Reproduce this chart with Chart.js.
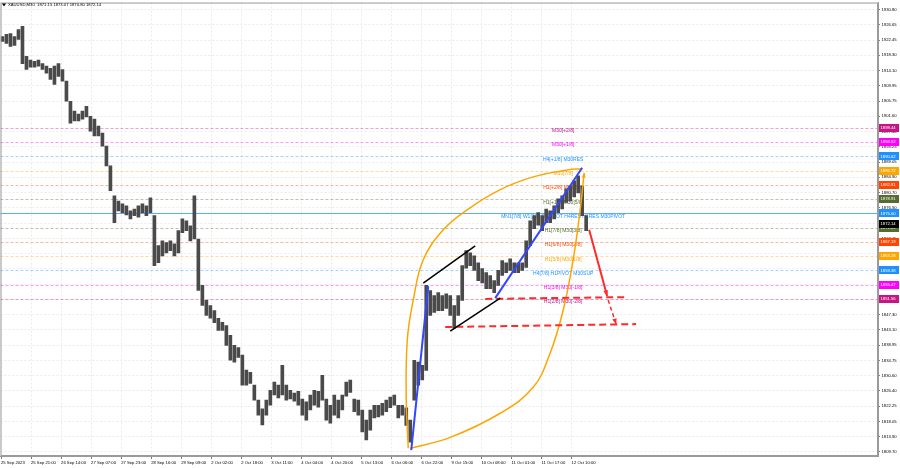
<!DOCTYPE html>
<html>
<head>
<meta charset="utf-8">
<script src="https://cdn.jsdelivr.net/npm/chart.js@4.4.0/dist/chart.umd.min.js"></script>
<style>
  html, body { margin: 0; padding: 0; background: #fff; }
  #wrap { width: 900px; height: 468px; }
</style>
</head>
<body>
<div id="wrap"><canvas id="chart" width="900" height="468"></canvas></div>
<script>
// XAUUSD M30 bars (one entry per sampled bar), lows and highs
const barLows = [
  1922.1, 1921.5, 1920.7, 1921.0, 1922.6, 1916.0, 1914.4, 1915.0, 1915.0, 1915.3,
  1914.4, 1913.4, 1911.7, 1910.3, 1912.5, 1911.2, 1905.7, 1899.7, 1900.3, 1900.3,
  1900.8, 1901.4, 1897.5, 1896.2, 1896.2, 1893.4, 1888.0, 1881.2, 1872.5, 1875.7,
  1875.2, 1874.6, 1873.5, 1874.4, 1874.0, 1875.2, 1874.4, 1875.2, 1860.7, 1861.5,
  1863.4, 1864.2, 1864.8, 1863.4, 1864.2, 1869.7, 1870.3, 1867.5, 1868.0, 1853.9,
  1849.8, 1847.1, 1846.3, 1845.1, 1843.0, 1843.0, 1838.9, 1834.8, 1834.3, 1835.6,
  1828.0, 1828.0, 1828.5, 1823.9, 1819.8, 1817.1, 1819.8, 1822.5, 1825.3, 1824.5,
  1825.3, 1823.9, 1824.2, 1823.6, 1822.5, 1819.8, 1818.4, 1821.2, 1822.5, 1822.0,
  1823.9, 1818.4, 1817.6, 1819.8, 1819.0, 1821.2, 1825.0, 1826.0, 1820.7, 1819.8,
  1815.2, 1813.0, 1815.7, 1819.0, 1819.3, 1819.8, 1820.7, 1821.8, 1822.5, 1819.0,
  1819.8, 1817.0, 1812.4, 1823.9, 1828.0, 1829.4, 1832.0, 1847.1, 1847.9, 1848.4,
  1848.4, 1849.0, 1847.1, 1843.6, 1847.1, 1851.2, 1860.0, 1860.7, 1859.4, 1856.6,
  1856.0, 1854.4, 1854.4, 1853.3, 1855.3, 1858.0, 1858.8, 1859.4, 1858.8, 1858.8,
  1859.4, 1860.2, 1866.2, 1870.8, 1871.8, 1870.3, 1872.5, 1872.5, 1873.5, 1875.2,
  1876.2, 1878.0, 1878.4, 1879.5, 1880.6, 1874.4, 1870.3
];
const barHighs = [
  1923.4, 1924.0, 1924.2, 1923.4, 1925.3, 1926.2, 1918.0, 1917.0, 1916.6, 1917.0,
  1916.0, 1915.3, 1914.7, 1915.3, 1916.0, 1914.4, 1911.2, 1905.7, 1903.0, 1902.2,
  1903.0, 1904.3, 1901.6, 1900.8, 1898.9, 1897.0, 1893.4, 1888.0, 1879.8, 1878.4,
  1877.6, 1877.1, 1875.7, 1876.2, 1877.1, 1877.6, 1877.1, 1879.3, 1874.4, 1866.2,
  1867.5, 1867.0, 1867.5, 1866.7, 1870.3, 1873.5, 1873.0, 1871.6, 1879.8, 1868.0,
  1855.3, 1851.2, 1849.8, 1848.4, 1846.3, 1845.2, 1844.3, 1841.6, 1838.9, 1838.3,
  1836.2, 1832.1, 1831.5, 1828.0, 1823.9, 1821.5, 1823.9, 1826.6, 1828.8, 1828.0,
  1833.4, 1828.0, 1826.6, 1825.8, 1826.3, 1824.2, 1823.4, 1825.3, 1826.6, 1826.3,
  1830.7, 1824.2, 1822.5, 1825.3, 1823.9, 1825.3, 1828.8, 1829.4, 1824.2, 1823.9,
  1821.2, 1818.4, 1821.2, 1822.5, 1822.5, 1823.0, 1823.9, 1824.7, 1825.3, 1822.5,
  1822.5, 1821.8, 1818.4, 1834.8, 1834.3, 1833.4, 1855.3, 1853.9, 1852.5, 1853.3,
  1852.5, 1853.0, 1852.5, 1849.8, 1852.5, 1860.7, 1864.8, 1864.2, 1863.4, 1861.5,
  1859.9, 1858.8, 1858.0, 1856.6, 1859.4, 1862.1, 1861.5, 1862.6, 1861.5, 1861.5,
  1861.5, 1867.5, 1873.0, 1874.4, 1875.2, 1874.4, 1876.2, 1875.7, 1877.1, 1879.0,
  1879.8, 1881.7, 1882.5, 1883.9, 1885.3, 1882.5, 1874.4
];

// time axis
const timeLabels = [
  "25 Sep 2023", "25 Sep 21:00", "26 Sep 14:00", "27 Sep 07:00", "27 Sep 23:00",
  "28 Sep 16:00", "29 Sep 09:00", "2 Oct 02:00", "2 Oct 18:00", "3 Oct 11:00",
  "4 Oct 04:00", "4 Oct 20:00", "5 Oct 13:00", "6 Oct 06:00", "6 Oct 22:00",
  "9 Oct 15:00", "10 Oct 08:00", "11 Oct 01:00", "11 Oct 17:00", "12 Oct 10:00"
];
const timeLabelBars = [
  -0.37, 7.14, 14.65, 22.16, 29.68, 37.19, 44.7, 52.21, 59.72, 67.24,
  74.75, 82.26, 89.77, 97.29, 104.8, 112.31, 119.82, 127.33, 134.85, 142.36
];

// price axis
const priceTicks = [
  1930.80, 1926.65, 1922.45, 1918.30, 1914.10, 1909.95, 1905.75, 1901.60, 1897.40, 1893.25,
  1889.05, 1884.90, 1880.70, 1876.50, 1872.35, 1868.15, 1864.00, 1859.80, 1855.65, 1851.45,
  1847.30, 1843.10, 1838.95, 1834.75, 1830.60, 1826.40, 1822.25, 1818.05, 1813.90, 1809.70
];

// Murrey math levels
const levelValues = [1898.44, 1894.52, 1890.62, 1886.72, 1882.81, 1878.91, 1875.00,
  1871.09, 1867.19, 1863.28, 1859.38, 1855.47, 1851.56];
const levelNames = ["M30[+2/8]", "M30[+1/8]", "H4[+1/8] M30RES", "M30[7/8]",
  "H1[+2/8] M30[6/8]", "H1[+1/8] M30[5/8]", "MN1[7/8] W1[3/8] D1PIVOT H4RES H1RES M30PIVOT",
  "H1[7/8] M30[3/8]", "H1[6/8] M30[2/8]", "H1[5/8] M30[1/8]", "H4[7/8] H1PIVOT M30SUP",
  "H1[3/8] M30[-1/8]", "H1[2/8] M30[-2/8]"];
const levelColors = ["#c71585", "#ff00ff", "#1e90ff", "#ffa500", "#ff4500", "#556b2f", "#1e90ff",
  "#556b2f", "#ff4500", "#ffa500", "#1e90ff", "#ff00ff", "#c71585"];
const lastPrice = 1872.14;
const title = "XAUUSD,M30  1871.15 1873.07 1870.80 1872.14";

// drawn objects, [bar, price]
const blueTrend1 = [[102.25, 1810.2], [106.5, 1855.1]];
const blueTrend2 = [[123.25, 1851.8], [145, 1887.5]];
const blackTop = [[105.25, 1855.9], [118.25, 1866.1]];
const blackBottom = [[112, 1842.8], [124.5, 1851.8]];
const redDashUpper = [[120.75, 1851.6], [156.5, 1852.1]];
const redDashLower = [[110.75, 1843.9], [158.5, 1844.7]];
const redArrow = [[146.75, 1870.5], [151.25, 1852.4]];
const redArrowDashed = [[151.5, 1851.3], [153.5, 1844.7]];
const orangeArcA = [[101.5, 1810.7], [101, 1823.9], [101.25, 1840.3], [102.75, 1851.3],
  [105.25, 1862.3], [110.25, 1870.5], [116.25, 1876.0], [124.5, 1881.5], [132.75, 1885.0],
  [141.25, 1886.9], [145, 1887.2]];
const orangeArcB = [[102, 1810.7], [112, 1813.7], [124.5, 1820.3], [132.75, 1827.4],
  [137, 1836.8], [140.25, 1848.5], [142.75, 1862.3], [144.5, 1876.0], [145.5, 1886.1]];

const FONT = "'Liberation Sans', Arial, sans-serif";

const pts = (arr) => arr.map(([x, y]) => ({ x, y }));
const lineSet = (arr, color, width, extra) => Object.assign({
  type: "line",
  data: pts(arr),
  borderColor: color,
  borderWidth: width,
  pointRadius: 0,
  fill: false,
  order: 1,
}, extra || {});

const alpha = (hex, a) => {
  const n = parseInt(hex.slice(1), 16);
  return `rgba(${(n >> 16) & 255},${(n >> 8) & 255},${n & 255},${a})`;
};

const levelsPlugin = {
  id: "levels",
  beforeDatasetsDraw(chart) {
    const { ctx, chartArea, scales } = chart;
    ctx.save();
    levelValues.forEach((v, i) => {
      const y = Math.round(scales.y.getPixelForValue(v)) + 0.5;
      ctx.beginPath();
      ctx.lineWidth = 1;
      if (v === 1875.00) {
        ctx.setLineDash([]);
        ctx.strokeStyle = alpha(levelColors[i], 0.75);
      } else {
        ctx.setLineDash([3, 2]);
        ctx.strokeStyle = alpha(levelColors[i], 0.4);
      }
      ctx.moveTo(chartArea.left, y);
      ctx.lineTo(chartArea.right, y);
      ctx.stroke();
    });
    ctx.setLineDash([]);
    ctx.font = `5px ${FONT}`;
    ctx.textAlign = "center";
    ctx.textBaseline = "top";
    const cx = scales.x.getPixelForValue(140.25);
    levelValues.forEach((v, i) => {
      const y = scales.y.getPixelForValue(v);
      ctx.fillStyle = levelColors[i];
      ctx.fillText(levelNames[i], cx, y + 0.5);
    });
    ctx.restore();
  },
  afterDatasetsDraw(chart) {
    const { ctx } = chart;
    ctx.save();
    chart.data.datasets.forEach((ds, i) => {
      if (!ds.arrow) return;
      const meta = chart.getDatasetMeta(i);
      const p = meta.data;
      const a = p[p.length - 2], b = p[p.length - 1];
      const ang = Math.atan2(b.y - a.y, b.x - a.x);
      const s = ds.arrowSize || 5;
      ctx.fillStyle = ds.borderColor;
      ctx.beginPath();
      ctx.moveTo(b.x, b.y);
      ctx.lineTo(b.x - s * Math.cos(ang - 0.4), b.y - s * Math.sin(ang - 0.4));
      ctx.lineTo(b.x - s * Math.cos(ang + 0.4), b.y - s * Math.sin(ang + 0.4));
      ctx.closePath();
      ctx.fill();
    });
    ctx.restore();
  },
  afterDraw(chart) {
    const { ctx, chartArea, scales } = chart;
    ctx.save();
    // frame
    ctx.strokeStyle = "#9a9a9a";
    ctx.lineWidth = 1;
    ctx.strokeRect(chartArea.left + 0.5, chartArea.top + 0.5,
      chartArea.right - chartArea.left - 1, chartArea.bottom - chartArea.top - 1);
    // price boxes
    ctx.font = `4.2px ${FONT}`;
    ctx.textBaseline = "middle";
    ctx.textAlign = "left";
    const boxes = levelValues.map((v, i) => [v, levelColors[i]]);
    boxes.push([lastPrice, "#000000"]);
    boxes.forEach(([v, c]) => {
      const y = scales.y.getPixelForValue(v);
      ctx.fillStyle = c;
      ctx.fillRect(chartArea.right + 1, Math.round(y) - 4, 20, 8);
      ctx.fillStyle = "#ffffff";
      ctx.fillText(v.toFixed(2), chartArea.right + 2.5, y);
    });
    // title
    ctx.fillStyle = "#000";
    ctx.beginPath();
    ctx.moveTo(2, 3.5); ctx.lineTo(6, 3.5); ctx.lineTo(4, 6.5); ctx.closePath();
    ctx.fill();
    ctx.font = `4.2px ${FONT}`;
    ctx.fillText(title, 8, 5);
    ctx.restore();
  }
};

new Chart(document.getElementById("chart"), {
  data: {
    datasets: [
      lineSet(blueTrend1, "#3347ff", 2),
      lineSet(blueTrend2, "#3347ff", 2),
      lineSet(blackTop, "#000000", 1.5),
      lineSet(blackBottom, "#000000", 1.5),
      lineSet(redDashUpper, "#ff2a2a", 2, { borderDash: [7, 4] }),
      lineSet(redDashLower, "#ff2a2a", 2, { borderDash: [7, 4] }),
      lineSet(redArrow, "#ff2a2a", 2, { arrow: true, arrowSize: 6 }),
      lineSet(redArrowDashed, "#ff2a2a", 1.5, { borderDash: [4, 3], arrow: true, arrowSize: 6 }),
      lineSet(orangeArcA, "#ffa500", 1.5, { tension: 0.4 }),
      lineSet(orangeArcB, "#ffa500", 1.5, { tension: 0.4, arrow: true, arrowSize: 5 }),
      {
        type: "bar",
        data: barLows.map((lo, i) => ({ x: i, y: [lo, barHighs[i]] })),
        backgroundColor: "#4a4a4a",
        barThickness: 3,
        grouped: false,
        order: 10,
      },
    ],
  },
  options: {
    responsive: false,
    devicePixelRatio: 1,
    animation: false,
    layout: { padding: { top: -7, left: 0, right: 0, bottom: 0 } },
    plugins: { legend: { display: false }, tooltip: { enabled: false } },
    scales: {
      x: {
        type: "linear",
        offset: false,
        min: -0.5,
        max: 219,
        afterBuildTicks: (s) => { s.ticks = timeLabelBars.map((v) => ({ value: v })); },
        afterFit: (s) => { s.height = 12; },
        ticks: {
          autoSkip: false,
          maxRotation: 0,
          align: "start",
          padding: 1,
          color: "#000",
          font: { size: 4.2, family: FONT },
          callback: (v, i) => timeLabels[i],
        },
        grid: { offset: false, color: "#ebebeb", tickColor: "#777", tickLength: 3 },
        border: { color: "#9a9a9a", dash: [2, 2] },
      },
      y: {
        position: "right",
        min: 1808.6,
        max: 1932.72,
        afterBuildTicks: (s) => { s.ticks = priceTicks.map((v) => ({ value: v })); },
        afterFit: (s) => { s.width = 22; },
        ticks: {
          padding: 1.5,
          color: "#000",
          font: { size: 4.2, family: FONT, lineHeight: 0.5 },
          callback: (v) => v.toFixed(2),
        },
        grid: { color: "#ebebeb", tickColor: "#777", tickLength: 2 },
        border: { color: "#9a9a9a", dash: [2, 2] },
      },
    },
  },
  plugins: [levelsPlugin],
});
</script>
</body>
</html>
